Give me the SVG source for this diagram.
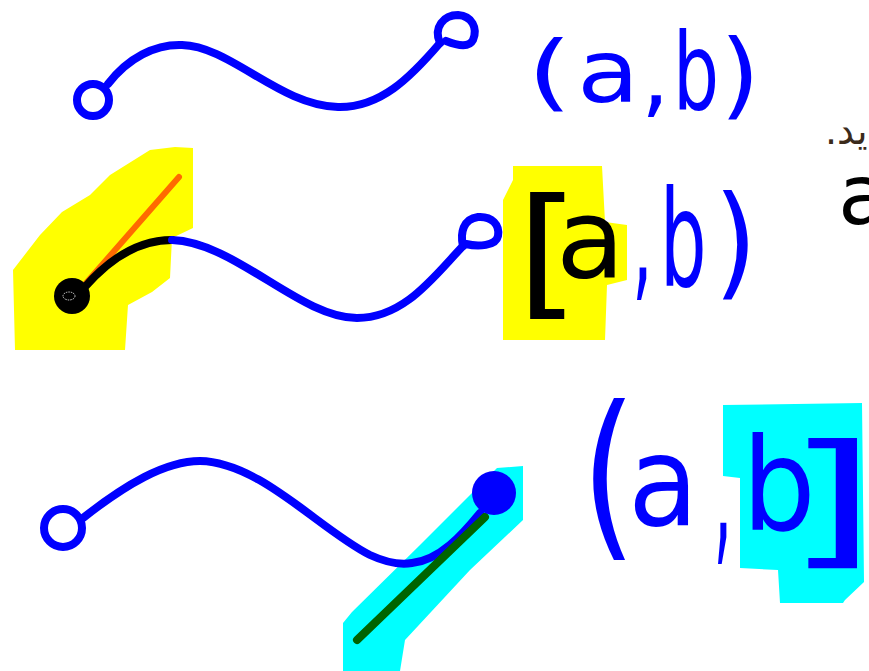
<svg xmlns="http://www.w3.org/2000/svg" width="869" height="671" viewBox="0 0 869 671">
<style>
.bg{fill:#ffffff}
.hy{fill:#ffff00}
.hc{fill:#00ffff}
.ln{fill:none;stroke-linecap:round;stroke-linejoin:round}
.blue{stroke:#0000ff;stroke-width:8}
.blk{stroke:#000000;stroke-width:8}
.org{stroke:#ff6a00;stroke-width:6}
.grn{stroke:#006400;stroke-width:8}
.t{font-family:"DejaVu Sans","Liberation Sans",sans-serif}
.tb{fill:#0000ff}
.tk{fill:#000000}
.tn{fill:#3b2b1b}
</style>
<rect class="bg" x="0" y="0" width="869" height="671"/>

<g id="highlights">
  <polygon class="hy" points="150,150 175,147 193,148 193,228 172,238 170,278 152,292 128,305 125,350 15,350 13,270 40,235 62,212 90,195 110,175"/>
  <polygon class="hy" points="513,166 602,166 605,222 627,225 627,280 607,285 605,340 503,340 503,200 513,180"/>
  <polygon class="hc" points="343,623 352,612 420,545 497,468 523,466 523,520 470,570 405,640 400,671 343,671"/>
  <polygon class="hc" points="723,405 862,403 864,582 845,600 843,603 780,603 778,570 740,568 740,478 723,476"/>
</g>

<g id="curve-open">
  <circle class="ln blue" cx="93" cy="100" r="16"/>
  <path class="ln blue" d="M108,84 C128,58 155,44 182,45 C230,46 280,106 338,107 C380,108 410,78 440,43"/>
  <path class="ln blue" d="M440,43 C433,27 444,15 458,15 C472,16 478,28 473,40 C469,48 456,45 446,41"/>
</g>

<g id="curve-closed-open">
  <line class="ln org" x1="179" y1="177" x2="80" y2="290"/>
  <path class="ln blk" d="M84,288 C110,258 138,240 172,240"/>
  <circle cx="72" cy="296" r="18" fill="#000000"/>
  <ellipse cx="69" cy="296" rx="6" ry="4" fill="none" stroke="#ffffff" stroke-width="0.8" stroke-dasharray="1.5 1"/>
  <path class="ln blue" d="M172,240 C235,242 300,318 357,318 C405,318 435,275 463,246"/>
  <path class="ln blue" d="M463,246 C460,233 463,219 478,217 C492,216 500,225 498,236 C496,246 478,247 466,244"/>
</g>

<g id="curve-open-closed">
  <circle class="ln blue" cx="63" cy="528" r="19"/>
  <path class="ln blue" d="M83,518 C125,485 165,461 200,461 C260,462 320,530 370,555 C385,562 400,565 412,563 C440,560 462,535 480,513"/>
  <line class="ln grn" x1="485" y1="517" x2="357" y2="640"/>
  <circle cx="494" cy="493" r="22" fill="#0000ff"/>
</g>

<g id="label-open">
  <text class="t tb"><tspan x="527" y="101" font-size="83" textLength="45.3" lengthAdjust="spacingAndGlyphs">(</tspan><tspan x="577" y="102" font-size="87" textLength="62.4" lengthAdjust="spacingAndGlyphs">a</tspan><tspan x="641" y="106" font-size="90" textLength="28.6" lengthAdjust="spacingAndGlyphs">,</tspan><tspan x="673" y="108.5" font-size="107" textLength="46" lengthAdjust="spacingAndGlyphs">b</tspan><tspan x="720" y="107" font-size="95" textLength="40" lengthAdjust="spacingAndGlyphs">)</tspan></text>
</g>

<g id="label-closed-open">
  <text class="t"><tspan class="tk" x="516" y="301" font-size="142" textLength="64.2" lengthAdjust="spacingAndGlyphs">[</tspan><tspan class="tk" x="556" y="276.5" font-size="110" textLength="68.8" lengthAdjust="spacingAndGlyphs">a</tspan><tspan class="tb" x="632" y="284" font-size="135" textLength="20.6" lengthAdjust="spacingAndGlyphs">,</tspan><tspan class="tb" x="660" y="286" font-size="133" textLength="46.5" lengthAdjust="spacingAndGlyphs">b</tspan><tspan class="tb" x="714" y="283.5" font-size="123" textLength="43.2" lengthAdjust="spacingAndGlyphs">)</tspan></text>
</g>

<g id="label-open-closed">
  <text class="t tb"><tspan x="581" y="536" font-size="182" textLength="55.4" lengthAdjust="spacingAndGlyphs">(</tspan><tspan x="628" y="525" font-size="125" textLength="70.5" lengthAdjust="spacingAndGlyphs">a</tspan><tspan x="713.5" y="544" font-size="172" textLength="18.6" lengthAdjust="spacingAndGlyphs">,</tspan><tspan x="742" y="530" font-size="129" textLength="73.7" lengthAdjust="spacingAndGlyphs">b</tspan><tspan x="785.5" y="549" font-size="147" textLength="91.7" lengthAdjust="spacingAndGlyphs">]</tspan></text>
</g>

<g id="margin-note">
  <text class="t tn" x="825" y="144" font-size="38" direction="rtl" text-anchor="end">ید.</text>
  <text class="t tk" x="838" y="224" font-size="84">a</text>
</g>
</svg>
